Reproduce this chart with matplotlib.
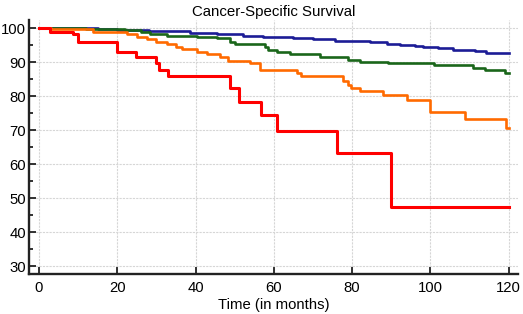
import numpy as np
import matplotlib.pyplot as plt
from matplotlib.ticker import MultipleLocator

plt.rcParams['font.family'] = ['Liberation Sans', 'DejaVu Sans']

# Kaplan-Meier style step curves (time in months, survival %)
blue_t = [0, 8, 15, 20, 24, 28, 38.5, 45.4, 52.2, 57.3, 64.9, 70, 75.6, 84.5, 88.8,
          92.2, 96, 98.1, 101.9, 105.8, 111.3, 114.3, 120]
blue_s = [100, 99.9, 99.7, 99.5, 99.3, 99.1, 98.7, 98.2, 97.7, 97.5, 97.0, 96.7, 96.3, 95.8, 95.3,
          95.0, 94.7, 94.5, 94.0, 93.5, 93.2, 92.8, 92.8]

green_t = [0, 12, 17, 22, 26, 28.3, 32.7, 40.3, 45.4, 48.8, 50, 57.7, 58.5, 60.7, 64.1,
           71.7, 79, 82, 89.2, 100.9, 110.9, 113.9, 119, 120]
green_s = [100, 99.8, 99.6, 99.3, 98.9, 98.4, 97.8, 97.4, 97.0, 96.0, 95.2, 94.5, 93.6, 93.0, 92.5,
           91.6, 90.6, 90.1, 89.8, 89.1, 88.3, 87.6, 86.7, 86.7]

orange_t = [0, 3, 13.8, 22.4, 25, 27.5, 30, 32.6, 35, 36.4, 40.3, 42.8, 46.2, 48.3, 53.9,
            56.5, 66, 67, 77.7, 79, 79.8, 81.9, 87.9, 93.9, 100, 108.9, 119.2, 120]
orange_s = [100, 99.6, 98.9, 98.2, 97.5, 96.8, 96.0, 95.3, 94.5, 93.8, 93.1, 92.5, 91.6, 90.4, 89.6,
            87.8, 86.8, 86.0, 84.4, 83.4, 82.4, 81.5, 80.3, 78.8, 75.2, 73.2, 70.7, 70.7]

red_t = [0, 2.8, 8.8, 9.9, 19.8, 24.9, 29.9, 30.7, 33.0, 48.8, 51.0, 56.8, 60.8, 76.0, 90.0, 120]
red_s = [100, 98.9, 98.4, 96.0, 93.0, 91.6, 89.8, 87.8, 85.8, 82.4, 78.3, 74.4, 69.8, 63.3, 47.4, 47.4]

fig = plt.figure(figsize=(5.23, 3.14), dpi=100)
ax = fig.add_axes([0.0564, 0.1274, 0.9336, 0.8086])

ax.step(blue_t, blue_s, where='post', color='#1c1c96', lw=1.9)
ax.step(green_t, green_s, where='post', color='#1a661a', lw=1.9)
ax.step(orange_t, orange_s, where='post', color='#ff6a00', lw=1.9)
ax.step(red_t, red_s, where='post', color='#ff0000', lw=2.2)

ax.set_xlim(-2.43, 122.3)
ax.set_ylim(27.65, 102.35)
ax.xaxis.set_major_locator(MultipleLocator(20))
ax.yaxis.set_major_locator(MultipleLocator(10))
ax.yaxis.set_minor_locator(MultipleLocator(5))

ax.grid(True, which='major', color='#d6d6d6', linestyle=(0, (2, 1)), linewidth=0.8)
ax.set_axisbelow(True)

for side in ['top', 'right']:
    ax.spines[side].set_visible(False)
for side in ['left', 'bottom']:
    ax.spines[side].set_linewidth(1.7)
    ax.spines[side].set_color('#222222')

ax.tick_params(axis='both', which='major', direction='in', length=5, width=1.3,
               labelsize=10.7, pad=2.5, colors='#222222', labelcolor='black')
ax.tick_params(axis='y', which='minor', direction='in', length=3, width=1.3, colors='#222222')
ax.tick_params(axis='x', pad=5)

ax.set_title('Cancer-Specific Survival', fontsize=10.8, pad=3)
ax.set_xlabel('Time (in months)', fontsize=10.7, labelpad=2)

fig.savefig('out.png', dpi=100)
